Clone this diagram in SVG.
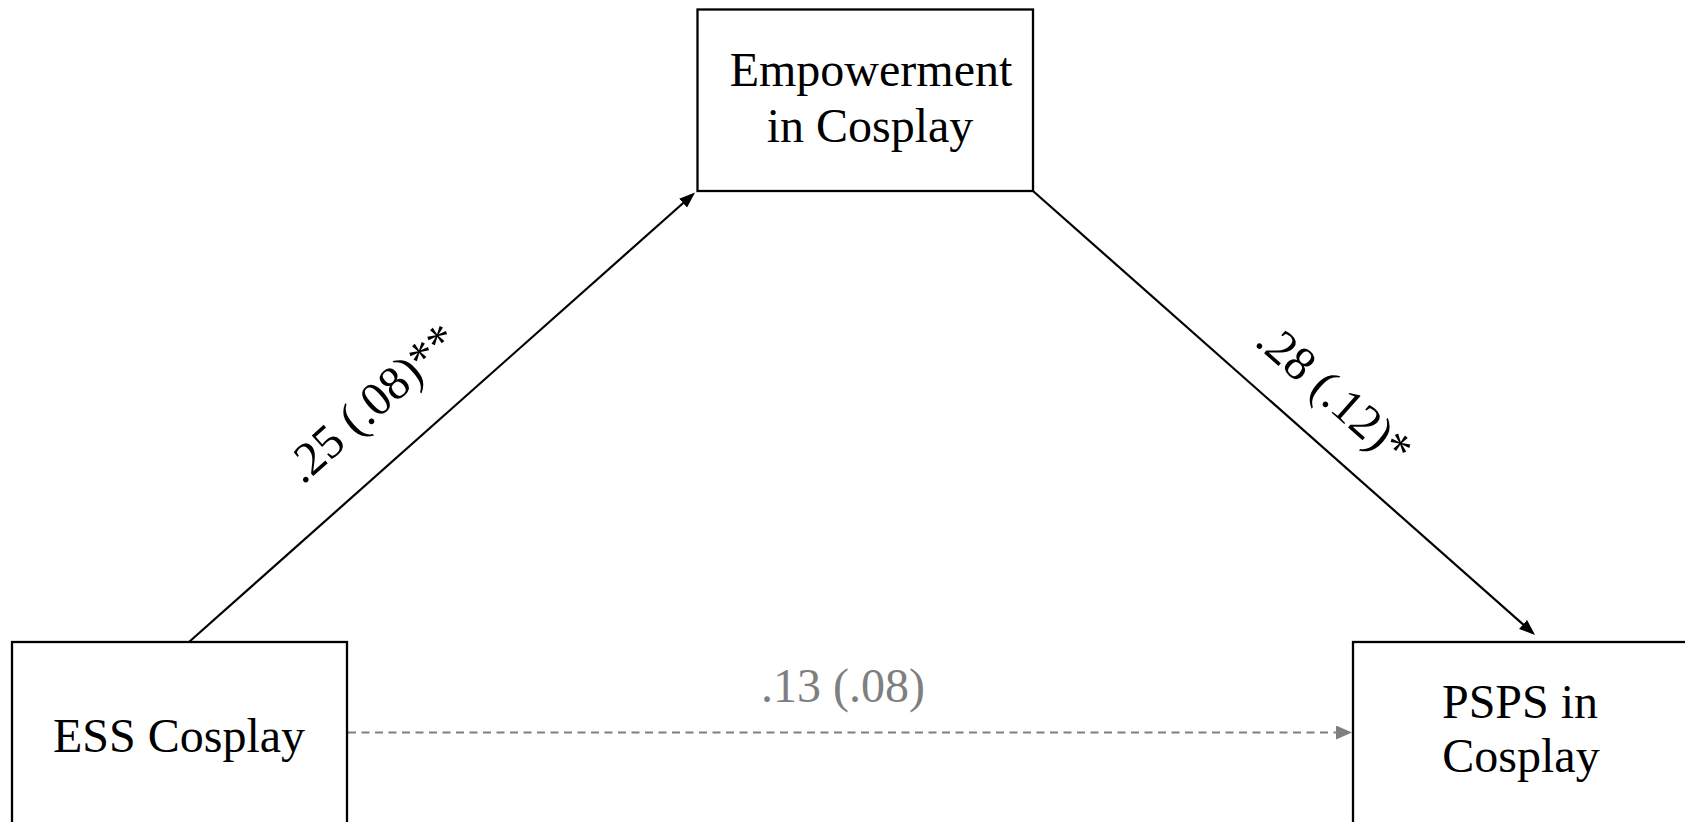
<svg xmlns="http://www.w3.org/2000/svg" width="1685" height="822" viewBox="0 0 1685 822">
<style>
.box{fill:#fff;stroke:#000;stroke-width:2.3}
.t{font-family:"Liberation Serif","Times New Roman",serif;font-size:48px;fill:#000;text-anchor:middle}
.g{fill:#7f7f7f}
.c{stroke:#000;stroke-width:2.2;fill:none}
.d{stroke:#7f7f7f;stroke-width:2.2;fill:none;stroke-dasharray:8 5.5}
</style>
<defs>
<marker id="ab" markerUnits="userSpaceOnUse" markerWidth="18" markerHeight="14" refX="13" refY="6" orient="auto">
<path d="M0,0 L16,6 L0,12 z" fill="#000"/>
</marker>
<marker id="ag" markerUnits="userSpaceOnUse" markerWidth="18" markerHeight="16" refX="13" refY="7" orient="auto">
<path d="M0,0 L16,7 L0,14 z" fill="#7f7f7f"/>
</marker>
</defs>
<rect width="1685" height="822" fill="#fff"/>
<g id="connectors">
<line class="c" x1="189" y1="642" x2="692.8" y2="194.5" marker-end="url(#ab)"/>
<line class="c" x1="1033" y1="191" x2="1532.8" y2="633" marker-end="url(#ab)"/>
<line class="d" x1="348" y1="732.5" x2="1349" y2="732.5" marker-end="url(#ag)"/>
<text class="t" transform="translate(382,415) rotate(-41.6)">.25 (.08)**</text>
<text class="t" transform="translate(1324,406) rotate(41.5)">.28 (.12)*</text>
<text class="t g" x="843" y="702">.13 (.08)</text>
</g>
<g id="empowerment">
<rect class="box" x="697.5" y="9.5" width="335.5" height="181.5"/>
<text class="t" x="871" y="86">Empowerment</text>
<text class="t" x="870" y="142">in Cosplay</text>
</g>
<g id="ess">
<rect class="box" x="12" y="642" width="335" height="200"/>
<text class="t" x="179" y="752">ESS Cosplay</text>
</g>
<g id="psps">
<rect class="box" x="1353" y="642" width="360" height="200"/>
<text class="t" x="1520" y="718">PSPS in</text>
<text class="t" x="1521" y="772">Cosplay</text>
</g>
</svg>
